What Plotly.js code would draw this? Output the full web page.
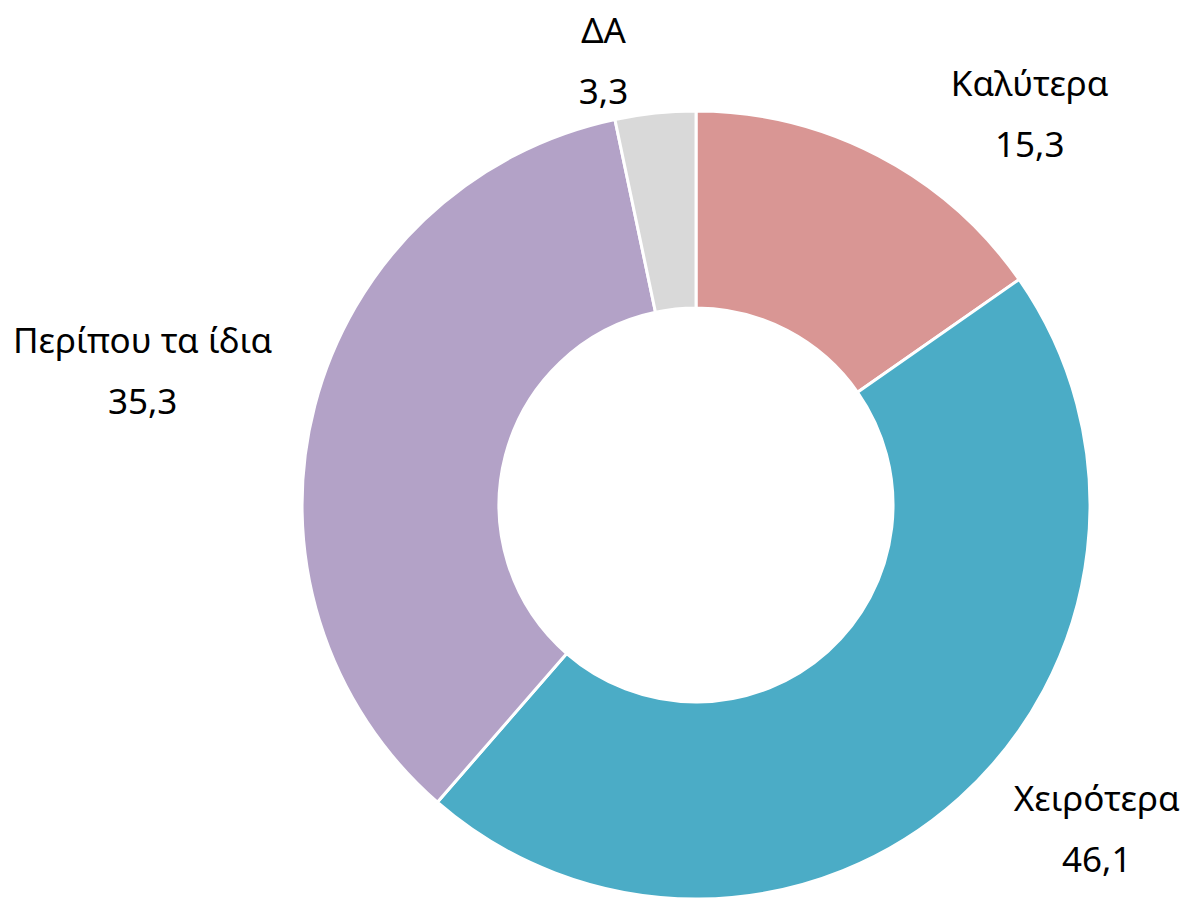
<!DOCTYPE html>
<html>
<head>
<meta charset="utf-8">
<script src="https://cdn.plot.ly/plotly-3.0.1.min.js"></script>
<style>html,body{margin:0;padding:0;background:#fff;}#chart{width:1190px;height:899px;}</style>
</head>
<body>
<div id="chart"></div>
<script>
const categories = ["Καλύτερα", "Χειρότερα", "Περίπου τα ίδια", "ΔΑ"];
const values = [15.3, 46.1, 35.3, 3.3];
const colors = ["#D99694", "#4BACC6", "#B3A2C7", "#D9D9D9"];

// label text layout (padding only nudges where the outside label sits)
const S = '<span style="font-size:35px">';
const E = '</span>';
const pad = n => '&nbsp;'.repeat(n);
const templates = [
  S + pad(5) + '%{label}' + E + '<br>' + S + pad(5) + '%{value:.1f}' + E,
  S + pad(3) + '%{label}' + E + '<br>' + S + pad(3) + '%{value:.1f}' + E,
  S + '%{label}' + E + '<br>' + S + '%{value:.1f}' + E + '<br>' + S + '&nbsp;' + E,
  S + '%{label}' + E + '<br>' + S + '%{value:.1f}' + E
];

const trace = {
  type: "pie",
  labels: categories,
  values: values,
  sort: false,
  direction: "clockwise",
  rotation: 0,
  hole: 0.5,
  marker: { colors: colors, line: { color: "#ffffff", width: 3 } },
  textposition: "outside",
  texttemplate: templates,
  textfont: { family: "Noto Sans, Open Sans, sans-serif", size: 47, color: "#000000" },
  outsidetextfont: { family: "Noto Sans, Open Sans, sans-serif", size: 47, color: "#000000" },
  domain: { x: [0.2538, 0.9160], y: [0, 0.8765] },
  showlegend: false,
  hoverinfo: "label+value"
};

const layout = {
  width: 1190,
  height: 899,
  margin: { l: 0, r: 0, t: 0, b: 0 },
  separators: ",.",
  paper_bgcolor: "#ffffff",
  showlegend: false
};

Plotly.newPlot("chart", [trace], layout, { displayModeBar: false, staticPlot: true });
</script>
</body>
</html>
